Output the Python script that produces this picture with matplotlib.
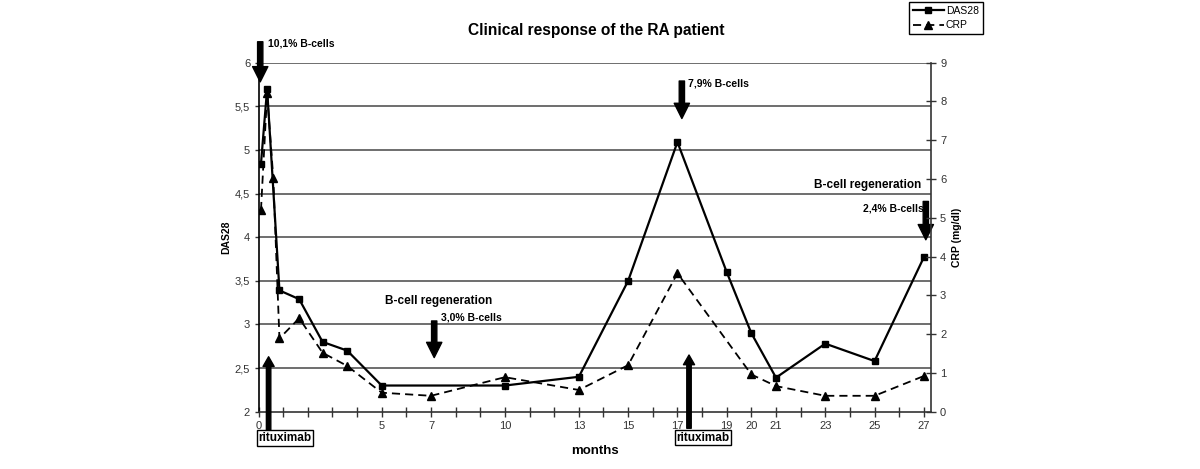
import matplotlib
matplotlib.use("Agg")
import matplotlib.pyplot as plt
from matplotlib.ticker import FixedLocator

plt.rcParams['font.family'] = ['Liberation Sans', 'DejaVu Sans']

# ---- data ----
das_months = [0.1, 0.35, 0.85, 1.65, 2.6, 3.6, 5, 10, 13, 15, 17, 19, 20, 21, 23, 25, 27]
das28 = [4.84, 5.70, 3.39, 3.29, 2.80, 2.70, 2.30, 2.30, 2.40, 3.50, 5.09, 3.60, 2.90, 2.39, 2.78, 2.58, 3.77]

crp_months = [0.1, 0.35, 0.6, 0.85, 1.65, 2.6, 3.6, 5, 7, 10, 13, 15, 17, 20, 21, 23, 25, 27]
crp = [5.2, 8.21, 6.02, 1.89, 2.41, 1.52, 1.18, 0.49, 0.41, 0.89, 0.56, 1.20, 3.57, 0.96, 0.66, 0.41, 0.41, 0.92]

x_label_months = [0, 5, 7, 10, 13, 15, 17, 19, 20, 21, 23, 25, 27]
das_ticks = [2, 2.5, 3, 3.5, 4, 4.5, 5, 5.5, 6]
das_tick_labels = ["2", "2,5", "3", "3,5", "4", "4,5", "5", "5,5", "6"]
crp_ticks = [0, 1, 2, 3, 4, 5, 6, 7, 8, 9]

title = "Clinical response of the RA patient"

W, H = 1200, 469
fig = plt.figure(figsize=(W / 100, H / 100), dpi=100)
L, R, T, B = 258.5, 931, 62.7, 411.7
ax = fig.add_axes([L / W, (H - B) / H, (R - L) / W, (B - T) / H])
ax2 = ax.twinx()

ax.set_xlim(0, 27.29)
ax.set_ylim(2, 6)
ax2.set_ylim(0, 9)

# gridlines
for v in das_ticks[1:]:
    ax.axhline(v, color='#555555', lw=1.2, zorder=0)

ax.plot(das_months, das28, color='black', lw=1.6, marker='s', markersize=5,
        label='DAS28', zorder=3)
ax2.plot(crp_months, crp, color='black', lw=1.3, ls=(0, (4.5, 2.8)), marker='^',
         markersize=6, label='CRP', zorder=3)

# spines
ax.spines['top'].set_visible(False)
ax2.spines['top'].set_visible(False)
ax.spines['right'].set_visible(False)
ax2.spines['left'].set_visible(False)
ax2.spines['bottom'].set_visible(False)
ax.spines['left'].set_color('black')
ax.spines['bottom'].set_color('#333333')
ax2.spines['right'].set_color('#333333')
for s in [ax.spines['left'], ax.spines['bottom'], ax2.spines['right']]:
    s.set_linewidth(1.2)

# ticks
all_months = list(range(0, 28))
ax.xaxis.set_major_locator(FixedLocator(all_months))
ax.set_xticklabels([str(m) if m in x_label_months else "" for m in all_months])
ax.tick_params(axis='x', direction='inout', length=7, width=1, colors='#333333',
               labelsize=8, pad=3)
ax.set_yticks(das_ticks)
ax.set_yticklabels(das_tick_labels)
ax.tick_params(axis='y', direction='out', length=3, width=1, colors='#333333',
               labelsize=8, pad=3)
ax2.set_yticks(crp_ticks)
ax2.tick_params(axis='y', direction='inout', length=7, width=1, colors='#333333',
                labelsize=8, pad=3)

# axis labels
fig.text(226 / W, 1 - 237 / H, "DAS28", rotation=90, fontsize=7.5, fontweight='bold',
         ha='center', va='center')
fig.text(957 / W, 1 - 237 / H, "CRP (mg/dl)", rotation=90, fontsize=7.5,
         fontweight='bold', ha='center', va='center')
fig.text(595 / W, 1 - 451 / H, "months", fontsize=9.5, fontweight='bold',
         ha='center', va='center')
fig.text(596 / W, 1 - 30 / H, title, fontsize=11.2, fontweight='bold',
         ha='center', va='center')

# arrows (positions in data coords of DAS28 axis)
def arrow(x, ytop, ytip, width=3.8, hw=11, hl=11):
    ax.annotate("", xy=(x, ytip), xytext=(x, ytop), xycoords='data',
                arrowprops=dict(facecolor='black', edgecolor='black', width=width,
                                headwidth=hw, headlength=hl, shrink=0),
                annotation_clip=False, zorder=5)

arrow(0.07, 6.24, 5.78)
arrow(0.41, 1.79, 2.63, width=3.2, hw=8, hl=7)
arrow(7.13, 3.04, 2.62)
arrow(17.18, 5.79, 5.36)
arrow(17.47, 1.81, 2.65, width=3.2, hw=8, hl=7)
arrow(27.08, 4.41, 3.97)

tb = dict(fontsize=7.5, fontweight='bold', va='center')
fig.text(268 / W, 1 - 43 / H, "10,1% B-cells", ha='left', **tb)
fig.text(441 / W, 1 - 318 / H, "3,0% B-cells", ha='left', **tb)
fig.text(688 / W, 1 - 83 / H, "7,9% B-cells", ha='left', **tb)
fig.text(924 / W, 1 - 208 / H, "2,4% B-cells", ha='right', **tb)
fig.text(439 / W, 1 - 301 / H, "B-cell regeneration", fontsize=8.5, fontweight='bold',
         ha='center', va='center')
fig.text(921 / W, 1 - 185 / H, "B-cell regeneration", fontsize=8.5, fontweight='bold',
         ha='right', va='center')

boxprops = dict(boxstyle='square,pad=0.15', facecolor='white', edgecolor='black', lw=1)
fig.text(285 / W, 1 - 438 / H, "rituximab", fontsize=8.5, fontweight='bold',
         ha='center', va='center', bbox=boxprops, zorder=6)
fig.text(703 / W, 1 - 437.5 / H, "rituximab", fontsize=8.5, fontweight='bold',
         ha='center', va='center', bbox=boxprops, zorder=6)

# legend
h1, l1 = ax.get_legend_handles_labels()
h2, l2 = ax2.get_legend_handles_labels()
leg = fig.legend(h1 + h2, l1 + l2, loc='upper left', bbox_to_anchor=(909 / W, 1 - 2 / H),
                 fontsize=7.5, frameon=True, fancybox=False, edgecolor='black',
                 framealpha=1, borderpad=0.35, labelspacing=0.45, handlelength=3,
                 handletextpad=0.2, borderaxespad=0)
leg.get_frame().set_linewidth(1)

fig.savefig("out.png", dpi=100)
